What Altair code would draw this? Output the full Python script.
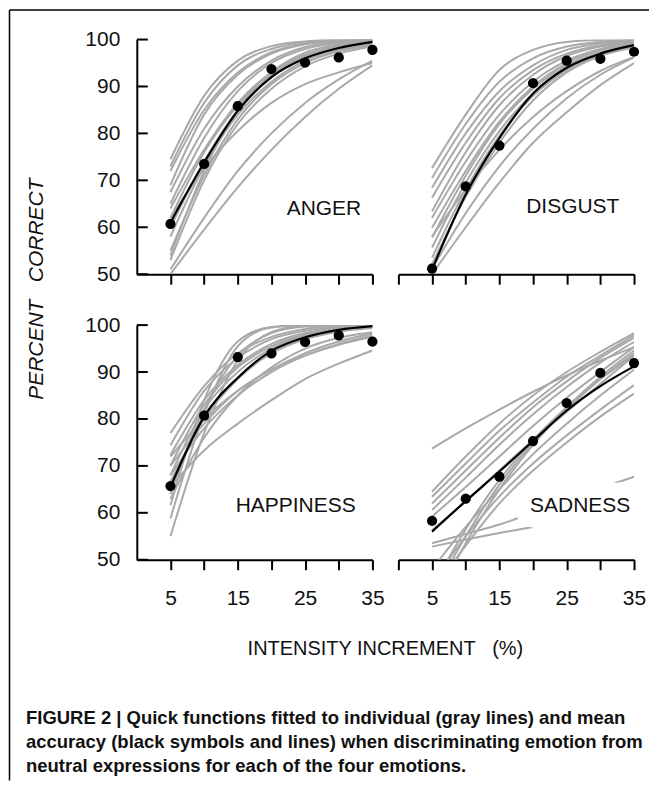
import altair as alt
import pandas as pd

FONT = "Liberation Sans"

XS = [5, 10, 15, 20, 25, 30, 35]
X_TICKS_LEFT = [5, 10, 15, 20, 25, 30, 35]
X_TICKS_RIGHT = [0, 5, 10, 15, 20, 25, 30, 35]
Y_TICKS = [50, 60, 70, 80, 90, 100]

# individual fitted curves (read at x = 5..35)
ANGER_GRAY = [
    [74.5, 88, 95.5, 98.6, 99.6, 100, 100],
    [73, 86.5, 94.5, 98, 99.4, 99.9, 100],
    [72, 85, 93, 97.3, 99.1, 99.7, 100],
    [69, 84, 92.5, 97, 99, 99.7, 99.9],
    [67.5, 81, 90, 95.5, 98.4, 99.5, 99.9],
    [65, 79, 89, 95, 98, 99.3, 99.8],
    [64, 76.5, 86.5, 93, 96.8, 98.7, 99.6],
    [62, 76, 86, 92.5, 96.5, 98.5, 99.4],
    [60, 74, 85, 92, 96, 98.2, 99.3],
    [58, 73, 84, 91, 95.5, 97.8, 99],
    [55, 71, 83, 90.5, 95, 97.5, 98.8],
    [54, 72, 85, 93, 97.2, 99, 99.7],
    [53, 70, 82, 89.5, 94.3, 97, 98.5],
    [62, 72.5, 80.5, 86.5, 90.5, 93, 95],
    [51, 62, 72, 80, 86.5, 91.5, 95.5],
    [50, 59.5, 68.5, 76.5, 83.5, 89.5, 94.5],
]
DISGUST_GRAY = [
    [72.6, 84, 93.5, 97.8, 99.5, 99.9, 100],
    [70.5, 82, 91, 96, 98.5, 99.5, 99.9],
    [68.4, 80, 89, 94.5, 97.8, 99.2, 99.8],
    [66.3, 78, 87.5, 93.5, 97, 98.8, 99.6],
    [63.4, 76, 86, 92.5, 96.5, 98.5, 99.5],
    [62, 74, 84, 91, 95.5, 98, 99.3],
    [59.9, 72, 82.5, 90, 95, 97.7, 99],
    [57.8, 71, 82, 89.5, 94.5, 97.3, 98.8],
    [55.7, 69.5, 80.5, 88.5, 94, 97, 98.7],
    [53.5, 68, 79.5, 88, 93.5, 96.8, 98.5],
    [52.1, 66.5, 78, 87, 93, 96.5, 98.3],
    [58, 68, 76.5, 83.5, 89, 93.3, 96.3],
    [51.2, 63, 73, 81, 87.5, 92.5, 96.2],
    [50, 60, 69.5, 78, 84.5, 90.3, 95],
]
HAPPINESS_GRAY = [
    [77, 87, 94, 97.5, 99.2, 99.8, 100],
    [74.4, 86, 93, 97, 98.8, 99.6, 99.9],
    [72.3, 84, 91.5, 96, 98.3, 99.4, 99.8],
    [70.1, 83, 91, 95.5, 98, 99.2, 99.7],
    [68, 82, 90, 95, 97.8, 99, 99.6],
    [66.6, 80, 88.5, 94, 97, 98.6, 99.4],
    [64, 82, 93.5, 98.3, 99.7, 100, 100],
    [61.6, 84, 96.5, 99.6, 100, 100, 100],
    [58.8, 81, 95.5, 99.5, 100, 100, 100],
    [55, 77, 92.5, 98.5, 99.9, 100, 100],
    [70, 79, 86, 90.5, 93.5, 95.8, 97.5],
    [68, 78, 85, 90, 93.5, 96, 97.8],
    [72, 80, 86, 90.5, 94, 96.5, 98.2],
    [65.5, 73.3, 79, 84, 88.5, 91.8, 94.6],
    [63, 76, 85, 91, 95, 97.3, 98.5],
]
SADNESS_GRAY = [
    [73.7, 78, 82, 85.8, 89.3, 92.4, 95.3],
    [64.5, 72, 79, 85, 90, 94.3, 98.3],
    [63.4, 70.5, 77.5, 83.5, 89, 93.5, 97.8],
    [62, 69, 76, 82.5, 88, 93, 97.3],
    [60.6, 67.5, 74.5, 81, 86.8, 92, 96.4],
    [59.2, 65.5, 72, 78.5, 84.5, 90, 95.3],
    [56.3, 62.5, 69, 75.5, 81.5, 87.5, 93.5],
    [45, 55, 63.5, 70.5, 76.5, 82, 87.2],
    [43, 53, 62, 69, 75, 80.5, 85.4],
    [42, 55, 66, 75, 82.5, 89, 94.6],
    [40, 53.5, 65, 74.5, 82, 88.5, 94],
    [44, 56.5, 67, 75.5, 82.5, 88.5, 93.5],
    [52.8, 54.3, 55.7, 57, 58.3, 59.5, 60.7],
    [53.5, 55.5, 57.5, 60, 62.5, 65.2, 67.7],
    [48, 57, 65, 72.5, 79, 85, 90.5],
]

# mean accuracy (black symbols)
ANGER_MEAN = [60.7, 73.5, 85.8, 93.7, 95.1, 96.2, 97.8]
DISGUST_MEAN = [51.2, 68.7, 77.4, 90.7, 95.5, 95.9, 97.4]
HAPPINESS_MEAN = [65.7, 80.7, 93.2, 94.0, 96.4, 97.8, 96.5]
SADNESS_MEAN = [58.3, 63.0, 67.7, 75.3, 83.4, 89.8, 91.9]

# fitted function to the mean (black line)
ANGER_FIT = [61, 73.8, 84.8, 92, 96, 98.2, 99.5]
DISGUST_FIT = [51, 67, 79, 88.5, 94, 97, 98.8]
HAPPINESS_FIT = [65.5, 80.5, 88.8, 94.5, 97.4, 99, 99.8]
SADNESS_FIT = [56, 62.5, 68.8, 75.3, 81.8, 87, 91.2]

EMOTIONS = ["ANGER", "DISGUST", "HAPPINESS", "SADNESS"]
LABEL_X = [27.8, 25.9, 23.6, 27.0]
LABEL_Y = [63.8, 64.3, 61.4, 61.4]

GRAY = {"ANGER": ANGER_GRAY, "DISGUST": DISGUST_GRAY,
        "HAPPINESS": HAPPINESS_GRAY, "SADNESS": SADNESS_GRAY}
MEAN = {"ANGER": ANGER_MEAN, "DISGUST": DISGUST_MEAN,
        "HAPPINESS": HAPPINESS_MEAN, "SADNESS": SADNESS_MEAN}
FIT = {"ANGER": ANGER_FIT, "DISGUST": DISGUST_FIT,
       "HAPPINESS": HAPPINESS_FIT, "SADNESS": SADNESS_FIT}

Y_TITLE = "PERCENT\u00a0\u00a0\u00a0CORRECT"
X_TITLE = "INTENSITY INCREMENT\u00a0\u00a0\u00a0(%)"
CAPTION = [
    "FIGURE 2 | Quick functions fitted to individual (gray lines) and mean",
    "accuracy (black symbols and lines) when discriminating emotion from",
    "neutral expressions for each of the four emotions.",
]

W, H = 236, 235


def panel(emo, left, bottom, annotate=False):
    gray_rows = []
    for ci, curve in enumerate(GRAY[emo]):
        for x, y in zip(XS, curve):
            gray_rows.append({"curve": ci, "x": x, "y": y})
    gray_df = pd.DataFrame(gray_rows)
    mean_df = pd.DataFrame({"x": XS, "y": MEAN[emo]})
    fit_df = pd.DataFrame({"x": XS, "y": FIT[emo]})
    i = EMOTIONS.index(emo)
    lab_df = pd.DataFrame({"x": [LABEL_X[i]], "y": [LABEL_Y[i]], "t": [emo]})

    xscale = alt.Scale(domain=[0, 35], nice=False, zero=False)
    yscale = alt.Scale(domain=[50, 100], nice=False, zero=False)
    xaxis = alt.Axis(
        values=X_TICKS_LEFT if left else X_TICKS_RIGHT,
        tickSize=10, tickWidth=2, tickColor="black",
        domainColor="black", domainWidth=2,
        labels=bottom,
        labelExpr="datum.value % 10 == 5 ? datum.label : ''",
        labelFont=FONT, labelFontSize=21, labelColor="#111111",
        labelPadding=18, labelFlush=False, labelOverlap=False,
        grid=False, title=None,
    )
    if left:
        yaxis = alt.Axis(
            values=Y_TICKS, ticks=False,
            domainColor="black", domainWidth=2,
            labelFont=FONT, labelFontSize=21, labelColor="#111111",
            labelPadding=17, labelFlush=False, labelOverlap=False,
            grid=False, title=None,
        )
    else:
        yaxis = None

    def X():
        return alt.X("x:Q", scale=xscale, axis=xaxis)

    def Y():
        return alt.Y("y:Q", scale=yscale, axis=yaxis)

    layers = []
    layers.append(
        alt.Chart(gray_df).mark_line(
            color="#a9a9a9", strokeWidth=2, clip=True, interpolate="monotone"
        ).encode(x=X(), y=Y(), detail="curve:N")
    )
    if left:
        ytick_df = pd.DataFrame({"y": Y_TICKS})
        layers.append(
            alt.Chart(ytick_df).mark_rule(color="black", strokeWidth=2).encode(
                y=Y(), x=alt.value(0), x2=alt.value(11)
            )
        )
    # white backdrop behind the emotion label
    layers.append(
        alt.Chart(lab_df).mark_text(
            font=FONT, fontSize=21, color="white", stroke="white",
            strokeWidth=32, strokeJoin="round", align="center", baseline="middle",
        ).encode(x=X(), y=Y(), text="t:N")
    )
    layers.append(
        alt.Chart(lab_df).mark_text(
            font=FONT, fontSize=21, color="#111111",
            align="center", baseline="middle",
        ).encode(x=X(), y=Y(), text="t:N")
    )
    layers.append(
        alt.Chart(fit_df).mark_line(
            color="black", strokeWidth=2.2, interpolate="monotone"
        ).encode(x=X(), y=Y())
    )
    layers.append(
        alt.Chart(mean_df).mark_circle(
            color="black", size=105, opacity=1
        ).encode(x=X(), y=Y())
    )

    if annotate:
        one = pd.DataFrame({"a": [0]})
        # figure frame (top and left edge)
        layers.append(
            alt.Chart(one).mark_rule(color="black", strokeWidth=1.5).encode(
                x=alt.value(-127.5), y=alt.value(-29.5), y2=alt.value(742)
            )
        )
        layers.append(
            alt.Chart(one).mark_rule(color="black", strokeWidth=1.5).encode(
                x=alt.value(-127.5), x2=alt.value(513), y=alt.value(-29.5)
            )
        )
        layers.append(
            alt.Chart(one).mark_text(
                text=Y_TITLE, font=FONT, fontSize=21, fontStyle="italic",
                color="#111111", angle=270, align="center", baseline="middle",
            ).encode(x=alt.value(-100), y=alt.value(250))
        )
        layers.append(
            alt.Chart(one).mark_text(
                text=X_TITLE, font=FONT, fontSize=20, color="#111111",
                align="center", baseline="middle",
            ).encode(x=alt.value(249), y=alt.value(610))
        )
        layers.append(
            alt.Chart(one).mark_text(
                text=CAPTION, font=FONT, fontSize=18.5, fontWeight="bold",
                color="#111111", align="left", baseline="alphabetic",
                lineHeight=24,
            ).encode(x=alt.value(-111), y=alt.value(686))
        )

    return alt.layer(*layers).properties(width=W, height=H)


tl = panel("ANGER", left=True, bottom=False, annotate=True)
tr = panel("DISGUST", left=False, bottom=False)
bl = panel("HAPPINESS", left=True, bottom=True)
br = panel("SADNESS", left=False, bottom=True)

chart = alt.concat(
    tl, tr, bl, br,
    columns=2,
    spacing=alt.RowColnumber(row=51, column=26),
    bounds="flush",
).properties(padding=0, background="white").configure_view(stroke=None)

chart.save("out.html", embed_options={"renderer": "svg", "actions": False})
